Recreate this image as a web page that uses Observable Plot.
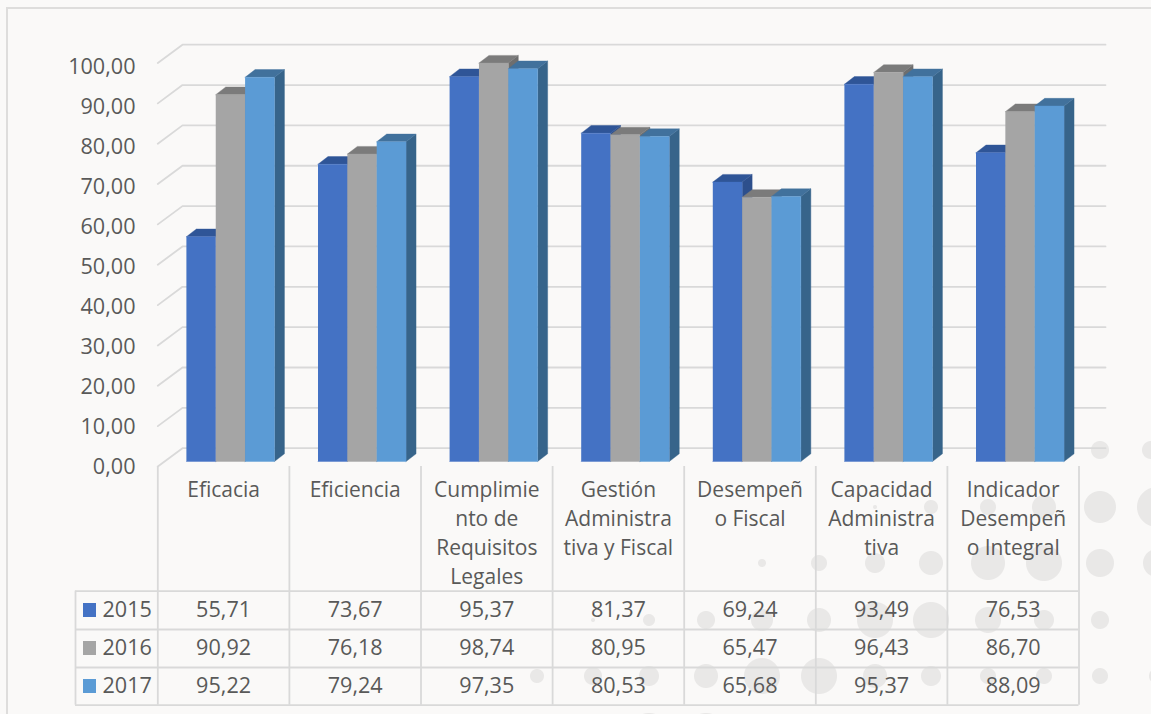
<!DOCTYPE html>
<html><head><meta charset="utf-8">
<script src="https://cdn.jsdelivr.net/npm/d3@7"></script>
<script src="https://cdn.jsdelivr.net/npm/@observablehq/plot@0.6"></script>
<style>
html,body{margin:0;padding:0;background:#fff;}
#wrap{width:1151px;height:714px;position:relative;overflow:hidden;}
</style></head><body><div id="wrap"></div>
<script>
const categories = ["Eficacia","Eficiencia","Cumplimie\nnto de\nRequisitos\nLegales","Gestión\nAdministra\ntiva y Fiscal","Desempeñ\no Fiscal","Capacidad\nAdministra\ntiva","Indicador\nDesempeñ\no Integral"];
const years = ["2015","2016","2017"];
const values2015 = [55.71,73.67,95.37,81.37,69.24,93.49,76.53];
const values2016 = [90.92,76.18,98.74,80.95,65.47,96.43,86.70];
const values2017 = [95.22,79.24,97.35,80.53,65.68,95.37,88.09];
const gridTicks = [0,10,20,30,40,50,60,70,80,90,100];
const front = ["#4472C4","#A5A5A5","#5B9BD5"];
const topFace = ["#2F5597","#7B7B7B","#41719C"];
const sideFace = ["#2D4F8C","#6E6E6E","#37648A"];
const series = [values2015,values2016,values2017];
// decorative page-background circles
const spots = [[1100,450,9],[1151,450,9],[875,507,2],[931,507,7],[988,507,8],[1044,507,12],[1100,507,16],[1157,507,20],
[762,563,4],[819,563,8],[875,563,10],[931,563,12],[988,563,17],[1044,563,18],[1100,563,14],[1157,563,14],
[593,620,2],[649,620,6],[706,620,9],[762,620,11],[819,620,12],[875,620,18],[931,620,18],[988,620,13],[1044,620,10],[1100,620,9],[1157,620,6],
[537,676,7],[593,676,9],[649,676,10],[706,676,12],[762,676,18],[819,676,18],[875,676,12],[931,676,10],[988,676,8],[1044,676,8],[1100,676,8],[1157,676,8],
[649,733,20],[706,733,20],[593,733,10]];
const wrap = document.getElementById("wrap");
wrap.style.backgroundColor = "#FAF9F8";
wrap.style.backgroundImage = spots.map(([x,y,r])=>`radial-gradient(circle ${r}px at ${x}px ${y}px,#E9E8E7 ${r-0.5}px,transparent ${r+0.5}px)`).join(",");

// scale calibration: one category = 131.6 px, one value unit = 4.035 px
const catW = 131.6, valH = 4.035, x0Px = 157.3, y0Px = 461;
const ux = p => (p-x0Px)/catW, uy = p => (y0Px-p)/valH;
const barW = 29.35/catW, barOff = 28.6/catW, depthX = 10/catW, depthY = 7.7/valH;

const faces = [];
categories.forEach((c,i)=>series.forEach((s,k)=>{
  const v=s[i], a=i+barOff+k*barW, b=a+barW;
  const add=(f,col,pts)=>pts.forEach(([x,y])=>faces.push({id:`${i}-${k}-${f}`,x,y,col}));
  add("side",sideFace[k],[[b,0],[b+depthX,depthY],[b+depthX,v+depthY],[b,v]]);
  add("top",topFace[k],[[a,v],[a+depthX,v+depthY],[b+depthX,v+depthY],[b,v]]);
  add("front",front[k],[[a,0],[b,0],[b,v],[a,v]]);
}));

const wallX = ux(182), endX = ux(1105), floorFront = uy(466)-0, floorBack = uy(447.7);
const gridPts = gridTicks.flatMap(t=>[
  {t,x:0,y:t+floorFront},{t,x:wallX,y:t+floorBack},{t,x:endX,y:t+floorBack}]);

const rowLines = [590.7,629,667,704.7];
const rowCenters = [610,648,686];
const tableCells = series.flatMap((s,k)=>s.map((v,i)=>({i,k,v})));
const fmt = v=>v.toFixed(2).replace(".",",");
const font = "'Open Sans',sans-serif";
const ink = "#595959", lineCol = "#D9D9D9";
const vLines = d3.range(0,8);

const plot = Plot.plot({
  width:1151,height:714,margin:0,
  x:{type:"linear",domain:[ux(0),ux(1151)],range:[0,1151],axis:null},
  y:{type:"linear",domain:[uy(714),uy(0)],range:[714,0],axis:null},
  style:{background:"transparent",fontFamily:font,overflow:"hidden"},
  marks:[
    // frame
    Plot.ruleY([uy(7.5)],{x1:ux(6),x2:ux(1151),stroke:"#DEDDDC",strokeWidth:1.8}),
    Plot.ruleX([ux(6.5)],{y1:uy(7),y2:uy(714),stroke:"#DEDDDC",strokeWidth:2}),
    // walls / grid
    Plot.line(gridPts,{x:"x",y:"y",z:"t",stroke:lineCol,strokeWidth:1.8}),
    // bars
    Plot.line(faces,{x:"x",y:"y",z:"id",fill:{value:"col",scale:null},stroke:{value:"col",scale:null},strokeWidth:0.4,curve:"linear"}),
    // y axis labels
    Plot.text(gridTicks,{x:ux(135),y:t=>t*0.993+uy(467),text:fmt,textAnchor:"end",fontSize:21.6,fill:ink}),
    // table lines
    Plot.ruleX(vLines,{x:d=>d,y1:uy(466),y2:uy(704.7),stroke:lineCol,strokeWidth:1.8}),
    Plot.ruleY(rowLines.map(uy),{x1:ux(75),x2:7,stroke:lineCol,strokeWidth:1.8}),
    Plot.ruleX([ux(75)],{y1:uy(590.7),y2:uy(704.7),stroke:lineCol,strokeWidth:1.8}),
    // category labels
    Plot.text(categories,{x:(d,i)=>i+0.5,y:uy(475.5),text:d=>d,lineAnchor:"top",lineHeight:1.38,textAnchor:"middle",fontSize:21,fill:ink}),
    // table values
    Plot.text(tableCells,{x:d=>d.i+0.5,y:d=>uy(rowCenters[d.k]),text:d=>fmt(d.v),fontSize:21.6,fill:ink,textAnchor:"middle"}),
    // legend keys
    Plot.rect(years,{x1:ux(83),x2:ux(96),y1:(d,k)=>uy(rowCenters[k]-7),y2:(d,k)=>uy(rowCenters[k]+7),fill:{value:(d,k)=>front[k],scale:null}}),
    Plot.text(years,{x:ux(102),y:(d,k)=>uy(rowCenters[k]),text:d=>d,textAnchor:"start",fontSize:21.6,fill:ink})
  ]
});
wrap.appendChild(plot);
</script></body></html>
